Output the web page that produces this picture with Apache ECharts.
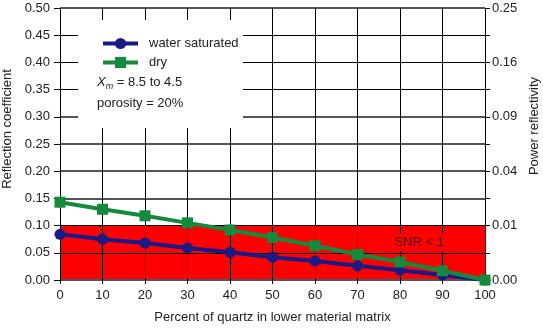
<!DOCTYPE html>
<html>
<head>
<meta charset="utf-8">
<script src="https://cdn.jsdelivr.net/npm/echarts@6/dist/echarts.min.js"></script>
<style>html,body{margin:0;padding:0;background:#fff}#c{width:543px;height:328px}</style>
</head>
<body>
<div id="c"></div>
<script>
const quartzPercent = [0, 10, 20, 30, 40, 50, 60, 70, 80, 90, 100];
const waterSaturated = [0.084, 0.075, 0.068, 0.059, 0.051, 0.042, 0.035, 0.026, 0.018, 0.009, 0.0];
const dry = [0.143, 0.130, 0.118, 0.105, 0.092, 0.078, 0.063, 0.047, 0.033, 0.017, 0.0];
const leftTicks = [0, 0.05, 0.1, 0.15, 0.2, 0.25, 0.3, 0.35, 0.4, 0.45, 0.5];
const rightTickLabels = ['0.00', '', '0.01', '', '0.04', '', '0.09', '', '0.16', '', '0.25'];
const snrZone = { xFrom: 0, xTo: 100, yFrom: 0, yTo: 0.1 };
const snrLabel = { text: 'SNR < 1', x: 84.5, y: 0.069 };

const FONT = 'Liberation Sans';
const heavy = [true, false, false, true, true, true, true, false, false, false, true];
const thinColors = heavy.map(h => h ? 'transparent' : '#000');
const heavyColors = heavy.map(h => h ? '#555' : 'transparent');

const chart = echarts.init(document.getElementById('c'), null, { renderer: 'canvas' });
const labelStyle = { color: '#222', fontFamily: FONT, fontSize: 13 };

chart.setOption({
  animation: false,
  backgroundColor: '#fff',
  grid: { left: 60, right: 58, top: 8, bottom: 48, containLabel: false, outerBoundsMode: 'none' },
  xAxis: {
    type: 'value', min: 0, max: 100, interval: 10, z: 3,
    name: 'Percent of quartz in lower material matrix',
    nameLocation: 'middle', nameGap: 31,
    nameTextStyle: labelStyle,
    axisLine: { show: false },
    axisTick: { show: true, length: 4, lineStyle: { color: '#000' } },
    axisLabel: Object.assign({ margin: 9 }, labelStyle),
    splitLine: { show: true, lineStyle: { color: '#000', width: 1 } }
  },
  yAxis: [{
    type: 'value', min: 0, max: 0.5, interval: 0.05, z: 3, position: 'left',
    name: 'Reflection coefficient', nameLocation: 'middle', nameGap: 46,
    nameTextStyle: Object.assign({ padding: [0, 0, 0, 30] }, labelStyle),
    axisLine: { show: false },
    axisTick: { show: true, length: 6, lineStyle: { color: '#000' } },
    axisLabel: Object.assign({ margin: 10, formatter: v => v.toFixed(2) }, labelStyle),
    splitLine: { show: true, lineStyle: { color: thinColors, width: 1 } }
  }, {
    type: 'value', min: 0, max: 0.5, interval: 0.05, z: 3, position: 'right',
    name: 'Power reflectivity', nameLocation: 'middle', nameGap: 43,
    nameTextStyle: Object.assign({ padding: [0, 0, 0, 36] }, labelStyle),
    axisLine: { show: false },
    axisTick: { show: true, length: 5, lineStyle: { color: '#000' } },
    axisLabel: Object.assign({
      margin: 7,
      formatter: function (v) { const i = Math.round(v / 0.05); return rightTickLabels[i] || ''; }
    }, labelStyle),
    splitLine: { show: true, lineStyle: { color: heavyColors, width: 2 } }
  }],
  legend: {
    left: 96, top: 32, orient: 'vertical', itemWidth: 35, itemHeight: 14, itemGap: 6, z: 20,
    data: ['water saturated', 'dry'],
    lineStyle: { width: 4 },
    textStyle: Object.assign({ padding: [0, 0, 0, 6] }, labelStyle)
  },
  graphic: [
    { type: 'rect', z: 10, shape: { x: 78, y: 20, width: 165, height: 108 }, style: { fill: '#fff' } },
    { type: 'text', z: 11, left: 97, top: 76, style: {
      text: '{i|X}{s|m} = 8.5 to 4.5',
      rich: {
        i: { fontStyle: 'italic', fontFamily: FONT, fontSize: 13, fill: '#222' },
        s: { fontStyle: 'italic', fontFamily: FONT, fontSize: 9, fill: '#222', padding: [7, 0, 0, 0] }
      },
      fontFamily: FONT, fontSize: 13, fill: '#222'
    } },
    { type: 'text', z: 11, left: 97, top: 97, style: { text: 'porosity = 20%', fontFamily: FONT, fontSize: 13, fill: '#222' } }
  ],
  series: [{
    type: 'line', name: 'zone', data: [], z: 1, silent: true,
    markArea: {
      silent: true,
      itemStyle: { color: '#ff0000', opacity: 1 },
      label: { show: false },
      data: [[{ xAxis: snrZone.xFrom, yAxis: snrZone.yFrom }, { xAxis: snrZone.xTo, yAxis: snrZone.yTo }]]
    }
  }, {
    type: 'line', name: 'snrLabel', data: [], z: 4, silent: true,
    markPoint: {
      silent: true, symbol: 'circle', symbolSize: 0,
      label: {
        show: true, position: 'inside', formatter: snrLabel.text, color: '#5a0000',
        fontFamily: FONT, fontSize: 13, backgroundColor: '#ff0000', padding: [3, 9, 2, 9]
      },
      data: [{ coord: [snrLabel.x, snrLabel.y] }]
    }
  }, {
    type: 'line', name: 'water saturated', z: 5,
    data: quartzPercent.map((x, i) => [x, waterSaturated[i]]),
    symbol: 'circle', symbolSize: 11,
    lineStyle: { color: '#1a1a85', width: 4 },
    itemStyle: { color: '#1a1a85' }
  }, {
    type: 'line', name: 'dry', z: 6,
    data: quartzPercent.map((x, i) => [x, dry[i]]),
    symbol: 'rect', symbolSize: 11,
    lineStyle: { color: '#138a3c', width: 4 },
    itemStyle: { color: '#138a3c' }
  }]
});
</script>
</body>
</html>
